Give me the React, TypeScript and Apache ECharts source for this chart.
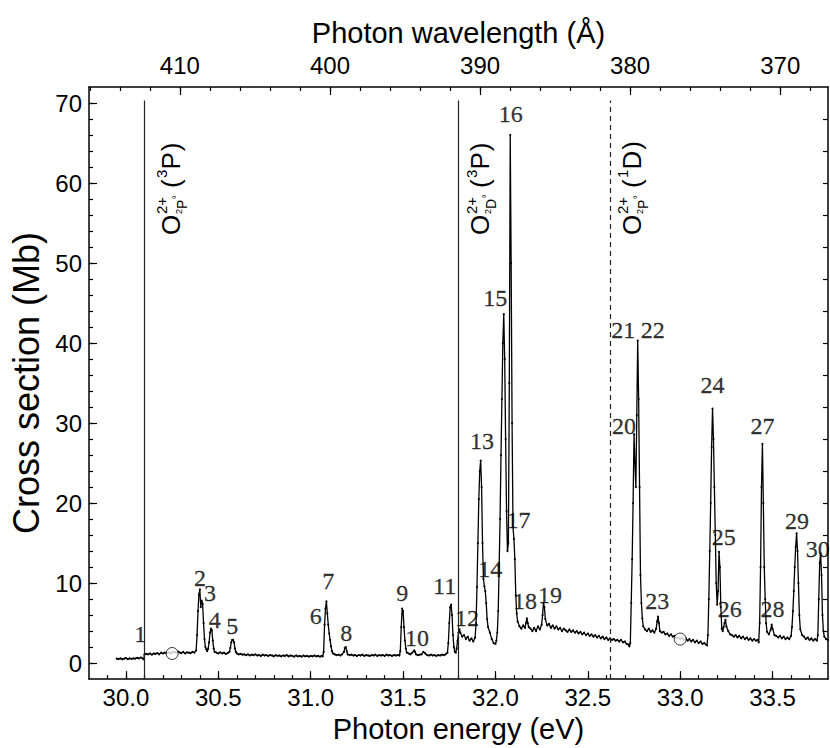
import React, { useEffect, useRef } from "react";
import * as echarts from "echarts";

const HC = 12398.42; // eV·Å
const ENERGY_MIN = 29.8;
const ENERGY_MAX = 33.8;
const CS_MIN = -2;
const CS_MAX = 72;

const energyLabels = [30.0, 30.5, 31.0, 31.5, 32.0, 32.5, 33.0, 33.5];
const wavelengthLabels = [410, 400, 390, 380, 370];
const crossLabels = [0, 10, 20, 30, 40, 50, 60, 70];

const steps = (a: number, b: number, s: number) => {
  const out: number[] = [];
  for (let i = 0; a + i * s <= b + 1e-9; i++) out.push(+(a + i * s).toFixed(4));
  return out;
};
const energyMinorTicks = steps(29.9, 33.7, 0.1);
const wavelengthMinorTicks = steps(368, 416, 2);
const crossMinorTicks = steps(0, 70, 2);
const rightTicks = steps(0, 68, 4);

// Measured spectrum, [photon energy (eV), cross section (Mb)]
const segPre = [[29.95,0.55],[29.96,0.5],[29.97,0.6],[29.98,0.48],[29.99,0.56],[30.0,0.62],[30.01,0.5],[30.02,0.58],[30.03,0.52],[30.04,0.6],[30.05,0.55],[30.06,0.66],[30.07,0.58],[30.08,0.7],[30.09,0.6],[30.097,0.45]];
const segA = [[30.1,1.05],[30.11,1.15],[30.12,1.1],[30.13,1.2],[30.14,1.05],[30.15,1.2],[30.16,1.15],[30.17,1.25],[30.18,1.1],[30.19,1.3],[30.2,1.2],[30.21,1.3],[30.22,1.25],[30.23,1.35],[30.24,1.2],[30.25,1.3],[30.26,1.4],[30.27,1.3],[30.28,1.45],[30.29,1.35],[30.3,1.25],[30.31,1.4],[30.32,1.2],[30.33,1.35],[30.34,1.3],[30.35,1.25],[30.36,1.4],[30.37,1.3],[30.38,1.6],[30.385,3.5],[30.39,6.5],[30.395,8.6],[30.4,9.2],[30.405,7.0],[30.41,7.8],[30.415,7.4],[30.42,5.0],[30.425,3.0],[30.43,2.0],[30.435,1.7],[30.44,1.5],[30.445,1.8],[30.45,2.6],[30.455,3.8],[30.46,4.3],[30.465,4.1],[30.47,2.8],[30.475,1.8],[30.48,1.4],[30.49,1.3],[30.5,1.2],[30.51,1.35],[30.52,1.2],[30.53,1.3],[30.54,1.15],[30.55,1.25],[30.56,1.4],[30.565,1.9],[30.57,2.6],[30.575,2.9],[30.58,2.9],[30.585,2.6],[30.59,1.8],[30.595,1.4]];
const segB = [[30.6,1.2],[30.61,1.1],[30.62,1.15],[30.63,1.05],[30.64,1.1],[30.65,1.0],[30.66,1.1],[30.67,0.95],[30.68,1.05],[30.69,1.0],[30.7,1.1],[30.71,0.95],[30.72,1.0],[30.73,0.9],[30.74,1.05],[30.75,0.95],[30.76,1.0],[30.77,0.9],[30.78,1.0],[30.79,0.95],[30.8,0.85],[30.81,1.0],[30.82,0.9],[30.83,0.95],[30.84,0.85],[30.85,0.95],[30.86,0.9],[30.87,1.0],[30.88,0.85],[30.89,0.95],[30.9,0.9],[30.91,0.8],[30.92,0.95],[30.93,0.85],[30.94,0.9],[30.95,0.8],[30.96,0.95],[30.97,0.85],[30.98,0.9],[30.99,0.8],[31.0,0.9],[31.01,0.85],[31.02,0.95],[31.03,0.85],[31.04,0.9],[31.05,0.8],[31.06,0.9]];
const segC = [[31.065,0.85],[31.07,1.4],[31.075,4.8],[31.08,6.8],[31.085,7.7],[31.09,6.2],[31.095,4.8],[31.1,3.7],[31.105,2.9],[31.11,2.1],[31.115,1.5],[31.12,1.2],[31.13,1.1],[31.14,1.0],[31.15,1.05],[31.16,0.95],[31.17,1.1],[31.18,1.4],[31.185,1.9],[31.19,2.0],[31.195,1.5],[31.2,1.1],[31.21,1.0],[31.22,1.05],[31.23,0.95],[31.24,1.0],[31.25,0.9],[31.26,1.0],[31.27,0.95],[31.28,1.05],[31.29,0.9],[31.3,1.0],[31.31,0.95],[31.32,0.9],[31.33,1.0],[31.34,0.95],[31.35,1.05],[31.36,0.9],[31.37,1.0],[31.38,0.95],[31.39,1.0],[31.4,0.9],[31.41,1.05],[31.42,0.95],[31.43,1.0],[31.44,0.9],[31.45,1.0],[31.46,0.95],[31.47,1.0],[31.48,0.95]];
const segD = [[31.485,1.5],[31.49,4.5],[31.495,6.8],[31.5,6.5],[31.505,4.5],[31.51,2.8],[31.515,1.8],[31.52,1.3],[31.53,1.2],[31.54,1.1],[31.55,1.3],[31.56,1.6],[31.565,1.4],[31.57,1.1],[31.58,1.0],[31.59,1.05],[31.6,1.1],[31.61,1.4],[31.62,1.2],[31.63,1.0],[31.64,0.95],[31.65,1.05],[31.66,0.95],[31.67,1.0],[31.68,0.9],[31.69,1.0],[31.7,0.95],[31.71,1.05],[31.72,1.0],[31.73,1.1],[31.74,1.3],[31.745,2.5],[31.75,5.0],[31.755,7.0],[31.76,7.3],[31.765,6.0],[31.77,3.5],[31.775,2.0],[31.78,1.4],[31.785,1.3],[31.79,1.8],[31.795,2.8],[31.8,3.8],[31.805,4.2],[31.81,3.8],[31.82,3.3],[31.83,3.5],[31.84,3.0],[31.85,3.3],[31.86,2.8],[31.87,3.1],[31.88,2.7],[31.89,3.2]];
const segE = [[31.895,5.0],[31.9,9.5],[31.905,15],[31.91,20.5],[31.915,24],[31.92,25.3],[31.925,22],[31.93,15],[31.935,10.5],[31.94,9.6],[31.945,9.0],[31.95,7.5],[31.955,5.5],[31.96,4.5],[31.97,3.8],[31.98,3.0],[31.99,2.5],[32.0,2.4],[32.005,2.8],[32.01,3.8],[32.015,6.5],[32.02,12],[32.025,18],[32.03,26],[32.035,33],[32.04,40],[32.045,43.6],[32.05,38],[32.055,28],[32.06,19],[32.065,14],[32.07,15],[32.075,35],[32.08,66],[32.085,50],[32.09,30],[32.095,17],[32.1,15.5],[32.105,13],[32.11,8.5],[32.115,6.2],[32.12,5.2],[32.13,4.6],[32.14,4.3],[32.15,4.7],[32.16,4.4],[32.165,5.0],[32.17,5.6],[32.175,5.0],[32.18,4.5],[32.19,4.3],[32.2,4.0],[32.21,4.4],[32.22,4.0],[32.23,4.6],[32.24,4.2],[32.25,4.8],[32.255,6.0],[32.26,7.5],[32.265,7.0],[32.27,5.5],[32.28,4.7],[32.29,4.9],[32.3,4.4]];
const segF = [[32.31,4.7],[32.32,4.3],[32.33,4.6],[32.34,4.2],[32.35,4.4],[32.36,4.0],[32.37,4.3],[32.38,4.1],[32.39,3.9],[32.4,4.2],[32.41,3.9],[32.42,4.1],[32.43,3.8],[32.44,4.0],[32.45,3.7],[32.46,3.9],[32.47,3.6],[32.48,3.8],[32.49,3.5],[32.5,3.7],[32.51,3.4],[32.52,3.6],[32.53,3.3],[32.54,3.5],[32.55,3.2],[32.56,3.4],[32.57,3.1],[32.58,3.3],[32.59,3.0],[32.6,3.2],[32.61,2.9],[32.62,3.1],[32.63,2.9],[32.64,3.0],[32.65,2.8],[32.66,2.9],[32.67,2.7],[32.68,2.9],[32.69,2.6],[32.7,2.7],[32.71,2.4],[32.72,2.3],[32.725,2.1]];
const segG = [[32.73,2.5],[32.735,7.5],[32.74,13],[32.745,20],[32.75,28.6],[32.755,25],[32.76,22],[32.765,31],[32.77,40.3],[32.775,33],[32.78,22],[32.785,11],[32.79,7.5],[32.795,5.6],[32.8,4.6],[32.81,4.2],[32.82,4.0],[32.83,4.3],[32.84,3.9],[32.85,4.1],[32.86,3.8],[32.87,4.3],[32.875,5.2],[32.88,5.8],[32.885,5.0],[32.89,4.0],[32.9,3.8],[32.91,3.9],[32.92,3.6],[32.93,3.7],[32.94,3.4],[32.95,3.6],[32.96,3.3],[32.97,3.4],[32.98,3.1],[32.99,3.2],[33.0,3.0],[33.01,3.2],[33.02,2.9],[33.03,3.1],[33.04,2.8],[33.05,3.0],[33.06,2.7],[33.07,2.9],[33.08,2.6],[33.09,2.8],[33.1,2.5],[33.11,2.7],[33.12,2.4],[33.13,2.5],[33.14,2.3],[33.145,2.2]];
const segH = [[33.15,3.5],[33.155,8],[33.16,14],[33.165,20],[33.17,27],[33.175,31.8],[33.18,28],[33.185,22],[33.19,16],[33.195,10],[33.2,7.3],[33.205,9],[33.21,13.9],[33.215,12],[33.22,7],[33.225,4.3],[33.23,4.0],[33.235,4.5],[33.24,5.0],[33.245,5.4],[33.25,4.6],[33.26,4.0],[33.27,3.6],[33.28,3.5],[33.29,3.3],[33.3,3.5],[33.31,3.2],[33.32,3.4],[33.33,3.1],[33.34,3.3],[33.35,3.0],[33.36,3.2],[33.37,2.9],[33.38,3.1],[33.39,2.8],[33.4,3.0],[33.41,2.8],[33.42,2.9],[33.425,2.6]];
const segI = [[33.43,5],[33.435,12],[33.44,22],[33.445,27.4],[33.45,20],[33.455,12],[33.46,8.0],[33.465,5.0],[33.47,3.9],[33.48,3.6],[33.49,4.2],[33.495,4.8],[33.5,4.3],[33.51,3.5],[33.52,3.4],[33.53,3.2],[33.54,3.4],[33.55,3.1],[33.56,3.3],[33.57,3.0],[33.58,3.2],[33.59,3.0],[33.6,3.4],[33.605,4.5],[33.61,6.5],[33.615,9],[33.62,12],[33.625,14.5],[33.63,16.2],[33.635,14],[33.64,10],[33.645,6],[33.65,4.2],[33.66,3.5],[33.67,3.3],[33.68,3.0],[33.69,3.2],[33.7,2.9],[33.71,3.1],[33.72,2.8],[33.73,3.0],[33.74,2.8],[33.745,3.5],[33.75,8],[33.755,12.5],[33.76,13.7],[33.765,11],[33.77,6],[33.775,4.0],[33.78,3.3],[33.79,3.0],[33.8,2.9]];

const spectrum = [...segPre, ...segA, ...segB, ...segC, ...segD, ...segE, ...segF, ...segG, ...segH, ...segI];

// Normalisation points (open circles)
const normPoints = [[30.25, 1.2], [33.0, 3.0]];

// Thresholds (vertical lines)
const thresholdEnergies = [30.1, 31.8, 32.62];
const thresholdDashed = [false, false, true];
const thresholdTop = 70.3;

// Resonance numbers and label positions [E, Mb]
const peakNumbers = ["1","2","3","4","5","6","7","8","9","10","11","12","13","14","15","16","17","18","19","20","21","22","23","24","25","26","27","28","29","30"];
const peakLabelPos = [[30.077,3.6],[30.401,10.6],[30.455,8.7],[30.48,5.4],[30.576,4.6],[31.028,5.9],[31.095,10.2],[31.192,3.7],[31.495,8.7],[31.576,3.1],[31.725,9.6],[31.846,5.6],[31.927,27.8],[31.972,11.7],[31.999,45.6],[32.083,68.6],[32.125,17.9],[32.16,7.7],[32.295,8.5],[32.696,29.6],[32.692,41.6],[32.851,41.6],[32.876,7.7],[33.175,34.7],[33.236,15.7],[33.268,6.7],[33.445,29.6],[33.499,6.7],[33.632,17.8],[33.745,14.3]];

// State annotations (rotated): O^{2+}_{2X°} (^{m}Y)
const stateLabelEnergies = [30.243, 31.918, 32.737];
const stateLabelInitial = ["P", "D", "P"];
const stateLabelMult = ["3", "3", "1"];
const stateLabelFinal = ["P", "P", "D"];
const stateLabelBase = 53.5;

const SANS = "'Liberation Sans', Arial, Helvetica, sans-serif";
const SERIF = "'Liberation Serif', 'Times New Roman', serif";

const wlMin = HC / ENERGY_MAX;
const wlMax = HC / ENERGY_MIN;

const axisLineStyle = { color: "#000", width: 1.5 };
const tickStyle = { color: "#000", width: 1.2 };
const TICK_FONT = 24;
const TITLE_FONT = 29;

function buildOption(): any {
  return {
    animation: false,
    backgroundColor: "#fff",
    grid: { left: 89, right: 2, top: 87, bottom: 65 },
    xAxis: [
      {
        type: "value", position: "bottom", min: ENERGY_MIN, max: ENERGY_MAX,
        axisLine: { show: true, onZero: false, lineStyle: axisLineStyle },
        axisTick: { show: true, inside: true, length: 8, customValues: energyLabels, lineStyle: tickStyle },
        axisLabel: { show: true, customValues: energyLabels, formatter: (v: number) => v.toFixed(1), fontSize: TICK_FONT, color: "#000", fontFamily: SANS, margin: 6 },
        splitLine: { show: false },
        name: "Photon energy (eV)", nameLocation: "middle", nameGap: 33,
        nameTextStyle: { fontSize: TITLE_FONT, color: "#000", fontFamily: SANS },
      },
      {
        type: "value", position: "bottom", min: ENERGY_MIN, max: ENERGY_MAX,
        axisLine: { show: false, onZero: false },
        axisTick: { show: true, inside: true, length: 4, customValues: energyMinorTicks, lineStyle: tickStyle },
        axisLabel: { show: false }, splitLine: { show: false },
      },
      {
        type: "value", position: "top", min: wlMin, max: wlMax, inverse: true,
        axisLine: { show: true, onZero: false, lineStyle: axisLineStyle },
        axisTick: { show: true, inside: true, length: 8, customValues: wavelengthLabels, lineStyle: tickStyle },
        axisLabel: { show: true, customValues: wavelengthLabels, formatter: (v: number) => String(Math.round(v)), fontSize: TICK_FONT, color: "#000", fontFamily: SANS, margin: 10 },
        splitLine: { show: false },
        name: "Photon wavelength (Å)", nameLocation: "middle", nameGap: 40,
        nameTextStyle: { fontSize: TITLE_FONT, color: "#000", fontFamily: SANS },
      },
      {
        type: "value", position: "top", min: wlMin, max: wlMax, inverse: true,
        axisLine: { show: false, onZero: false },
        axisTick: { show: true, inside: true, length: 4, customValues: wavelengthMinorTicks, lineStyle: tickStyle },
        axisLabel: { show: false }, splitLine: { show: false },
      },
    ],
    yAxis: [
      {
        type: "value", position: "left", min: CS_MIN, max: CS_MAX,
        axisLine: { show: true, onZero: false, lineStyle: axisLineStyle },
        axisTick: { show: true, inside: true, length: 8, customValues: crossLabels, lineStyle: tickStyle },
        axisLabel: { show: true, customValues: crossLabels, formatter: (v: number) => String(v), fontSize: TICK_FONT, color: "#000", fontFamily: SANS, margin: 7 },
        splitLine: { show: false },
        name: "Cross section (Mb)", nameLocation: "middle", nameGap: 44, nameRotate: 90,
        nameTextStyle: { fontSize: 36, color: "#000", fontFamily: SANS },
      },
      {
        type: "value", position: "left", min: CS_MIN, max: CS_MAX,
        axisLine: { show: false, onZero: false },
        axisTick: { show: true, inside: true, length: 4, customValues: crossMinorTicks, lineStyle: tickStyle },
        axisLabel: { show: false }, splitLine: { show: false },
      },
      {
        type: "value", position: "right", min: CS_MIN, max: CS_MAX,
        axisLine: { show: true, onZero: false, lineStyle: axisLineStyle },
        axisTick: { show: true, inside: true, length: 5, customValues: rightTicks, lineStyle: tickStyle },
        axisLabel: { show: false }, splitLine: { show: false },
      },
    ],
    series: [
      {
        type: "line", name: "spectrum", xAxisIndex: 0, yAxisIndex: 0,
        data: spectrum, showSymbol: true, symbol: "circle", symbolSize: 2,
        lineStyle: { color: "#000", width: 1.3 }, itemStyle: { color: "#000" },
        clip: true, silent: true, z: 3,
        markLine: {
          silent: true, symbol: ["none", "none"], label: { show: false },
          data: thresholdEnergies.map((e, i) => [
            { coord: [e, CS_MIN], lineStyle: { color: "#222", width: 1.2, type: thresholdDashed[i] ? [5, 4] : "solid" } },
            { coord: [e, thresholdTop] },
          ]),
        },
      },
      {
        type: "scatter", name: "norm", xAxisIndex: 0, yAxisIndex: 0,
        data: normPoints, symbol: "circle", symbolSize: 12,
        itemStyle: { color: "#fff", borderColor: "#000", borderWidth: 1 }, silent: true, z: 5,
      },
      {
        type: "scatter", name: "labels", xAxisIndex: 0, yAxisIndex: 0,
        data: peakLabelPos.map((p, i) => ({ name: peakNumbers[i], value: p })),
        symbolSize: 0, silent: true, z: 6, itemStyle: { color: "#000" },
        label: {
          show: true, position: "inside", formatter: (p: any) => p.name,
          fontFamily: SERIF, fontSize: 24, color: "#000",
          textBorderColor: "#000", textBorderWidth: 0.3,
        },
      },
    ],
  };
}

function stateLabelGroup(x: number, y: number, i: number): any {
  const t = (text: string, lx: number, ly: number, size: number) => ({
    type: "text", x: lx, y: ly,
    style: { text, fontSize: size, fontFamily: SANS, fill: "#000", textAlign: "left", textVerticalAlign: "middle" },
  });
  const initW = stateLabelInitial[i] === "D" ? 10.1 : 9.3;
  const finW = stateLabelFinal[i] === "D" ? 18.8 : 17.3;
  return {
    type: "group", x, y, rotation: Math.PI / 2, silent: true, z: 10,
    children: [
      t("O", 0, 0, 26),
      t("2+", 21, -9, 15),
      t("2", 21, 8, 9),
      t(stateLabelInitial[i], 26, 11, 14),
      t("°", 26 + initW + 0.5, 6, 10),
      t("(", 47, 0, 26),
      t(stateLabelMult[i], 57, -9, 15),
      t(stateLabelFinal[i], 65.5, 0, 26),
      t(")", 65.5 + finW + 1, 0, 26),
    ],
  };
}

export default function App() {
  const ref = useRef<HTMLDivElement>(null);
  useEffect(() => {
    if (!ref.current) return;
    const chart = echarts.init(ref.current, null, { renderer: "svg" });
    chart.setOption(buildOption());
    const elements = stateLabelEnergies.map((e, i) => {
      const px = chart.convertToPixel({ xAxisIndex: 0 }, e) as number;
      const py = chart.convertToPixel({ yAxisIndex: 0 }, stateLabelBase) as number;
      return stateLabelGroup(px, py, i);
    });
    chart.setOption({ graphic: { elements } });
    return () => chart.dispose();
  }, []);
  return (
    <div
      ref={ref}
      style={{ position: "fixed", left: 0, top: 0, width: 830, height: 748, background: "#fff" }}
    />
  );
}
